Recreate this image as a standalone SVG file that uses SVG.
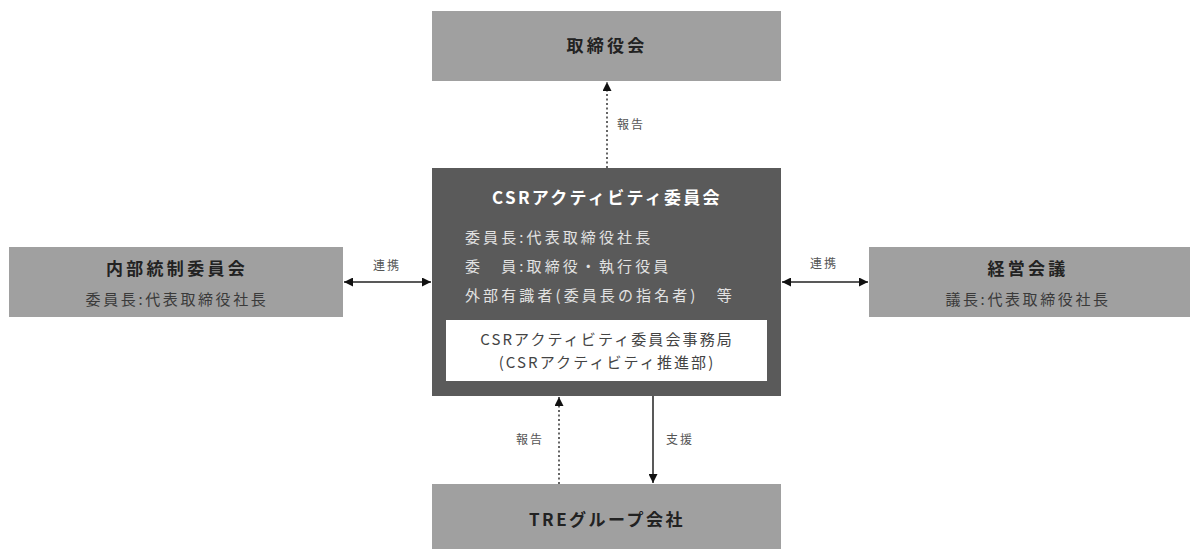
<svg xmlns="http://www.w3.org/2000/svg" width="1194" height="549" viewBox="0 0 1194 549">
<defs>
<style>
text{font-family:"Noto Sans CJK JP","Noto Sans",sans-serif;}
.gbox{fill:#a0a0a0;}
.dbox{fill:#5a5a5a;}
.wbox{fill:#ffffff;}
.ttl{font-size:17px;font-weight:bold;fill:#222;letter-spacing:3.3px;text-anchor:middle;}
.sub{font-size:15px;fill:#3a3a3a;letter-spacing:2.6px;text-anchor:middle;}
.ctl{font-size:17px;font-weight:bold;fill:#fff;letter-spacing:2.3px;text-anchor:middle;}
.cbody{font-size:15px;fill:#e2e2e2;letter-spacing:3.1px;}
.wtxt{font-size:15px;fill:#444;letter-spacing:2.1px;text-anchor:middle;}
.lbl{font-size:12px;fill:#555;letter-spacing:2px;}
.ln{stroke:#222;stroke-width:1.5;fill:none;}
.dot{stroke:#333;stroke-width:1.5;fill:none;stroke-dasharray:2 2.5;}
</style>
<marker id="ah" viewBox="0 0 10 10" refX="10" refY="5" markerWidth="9" markerHeight="9" markerUnits="userSpaceOnUse" orient="auto-start-reverse">
<path d="M0,0 L10,5 L0,10 Z" fill="#111"/>
</marker>
</defs>
<g id="board">
<rect class="gbox" x="432" y="11" width="349" height="70"/>
<text class="ttl" x="607" y="52">取締役会</text>
</g>
<g id="csr">
<rect class="dbox" x="432" y="168" width="349" height="228"/>
<text class="ctl" x="607" y="204">CSRアクティビティ委員会</text>
<text class="cbody" x="465" y="243">委員長:代表取締役社長</text>
<text class="cbody" x="465" y="272">委　員:取締役・執行役員</text>
<text class="cbody" x="465" y="301">外部有識者(委員長の指名者)　等</text>
<rect class="wbox" x="446" y="320" width="321" height="61"/>
<text class="wtxt" x="607" y="345">CSRアクティビティ委員会事務局</text>
<text class="wtxt" x="607" y="368">(CSRアクティビティ推進部)</text>
</g>
<g id="internal">
<rect class="gbox" x="9" y="247" width="334" height="70"/>
<text class="ttl" x="177" y="275">内部統制委員会</text>
<text class="sub" x="177" y="305">委員長:代表取締役社長</text>
</g>
<g id="management">
<rect class="gbox" x="869" y="247" width="321" height="70"/>
<text class="ttl" x="1028" y="275">経営会議</text>
<text class="sub" x="1028" y="305">議長:代表取締役社長</text>
</g>
<g id="group">
<rect class="gbox" x="432" y="484" width="349" height="65"/>
<text class="ttl" x="607" y="526" style="letter-spacing:2.5px">TREグループ会社</text>
</g>
<g id="connectors">
<line class="dot" x1="607" y1="168" x2="607" y2="82" marker-end="url(#ah)"/>
<text class="lbl" x="617" y="129">報告</text>
<line class="ln" x1="344" y1="282" x2="431" y2="282" marker-start="url(#ah)" marker-end="url(#ah)"/>
<text class="lbl" x="373" y="270">連携</text>
<line class="ln" x1="782" y1="282" x2="868" y2="282" marker-start="url(#ah)" marker-end="url(#ah)"/>
<text class="lbl" x="810" y="268">連携</text>
<line class="dot" x1="559" y1="484" x2="559" y2="397" marker-end="url(#ah)"/>
<text class="lbl" x="516" y="444">報告</text>
<line class="ln" x1="653" y1="396" x2="653" y2="483" marker-end="url(#ah)"/>
<text class="lbl" x="666" y="444">支援</text>
</g>
</svg>
